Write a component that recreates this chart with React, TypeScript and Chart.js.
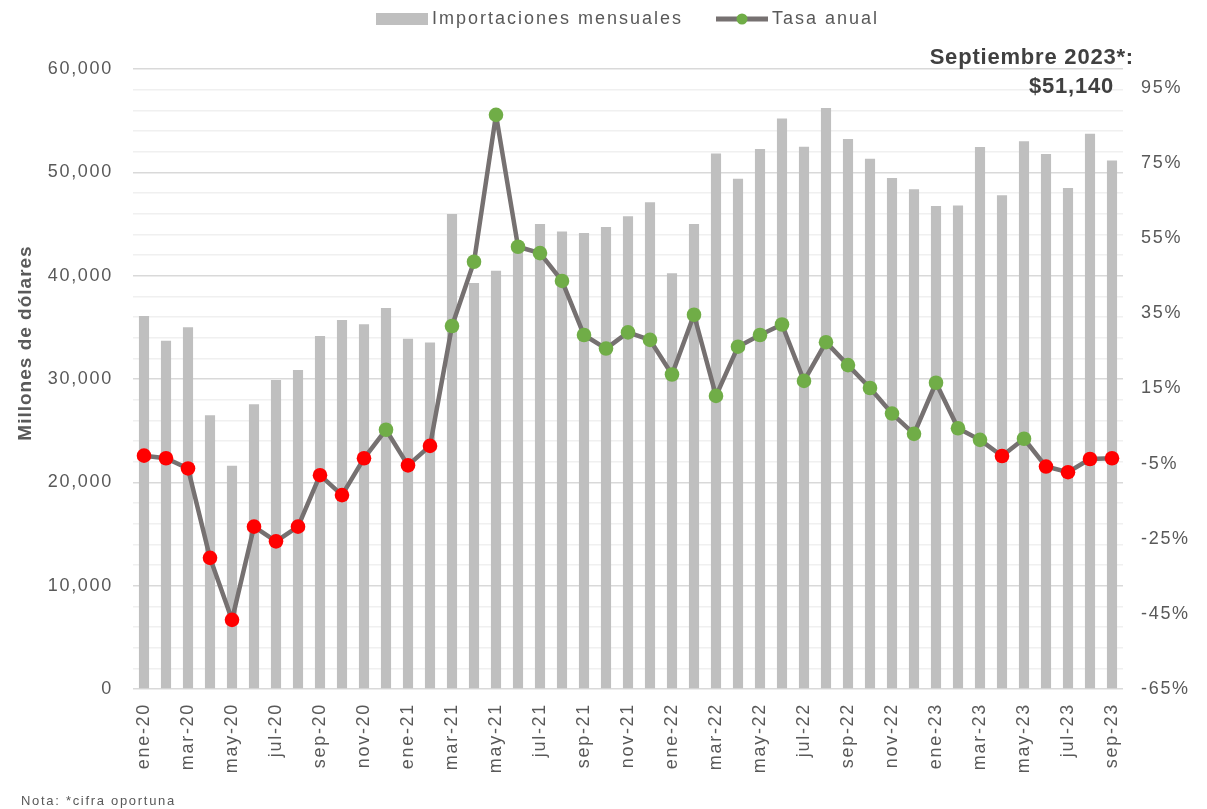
import React, { useEffect, useRef } from 'react';
import { Chart, registerables } from 'chart.js';

Chart.register(...registerables);

const months: string[] = [
  'ene-20', 'feb-20', 'mar-20', 'abr-20', 'may-20', 'jun-20', 'jul-20', 'ago-20', 'sep-20', 'oct-20', 'nov-20', 'dic-20',
  'ene-21', 'feb-21', 'mar-21', 'abr-21', 'may-21', 'jun-21', 'jul-21', 'ago-21', 'sep-21', 'oct-21', 'nov-21', 'dic-21',
  'ene-22', 'feb-22', 'mar-22', 'abr-22', 'may-22', 'jun-22', 'jul-22', 'ago-22', 'sep-22', 'oct-22', 'nov-22', 'dic-22',
  'ene-23', 'feb-23', 'mar-23', 'abr-23', 'may-23', 'jun-23', 'jul-23', 'ago-23', 'sep-23',
];

const imports: number[] = [
  36100, 33700, 35000, 26500, 21600, 27550, 29900, 30870, 34150, 35700, 35300, 36870,
  33900, 33530, 45970, 39290, 40480, 42800, 45000, 44270, 44130, 44710, 45750, 47100,
  40230, 45000, 51820, 49380, 52260, 55210, 52480, 56230, 53230, 51320, 49450, 48360,
  46740, 46790, 52450, 47780, 53000, 51770, 48480, 53740, 51140,
];

const annualRate: number[] = [
  -2.9, -3.6, -6.3, -30.1, -46.6, -21.8, -25.7, -21.8, -8.1, -13.4, -3.6, 4.0,
  -5.5, -0.3, 31.6, 48.7, 87.8, 52.7, 51.0, 43.6, 29.2, 25.6, 29.9, 27.9,
  18.7, 34.6, 13.0, 26.1, 29.2, 32.0, 17.0, 27.3, 21.2, 15.1, 8.3, 2.9,
  16.5, 4.4, 1.3, -3.0, 1.6, -5.8, -7.3, -3.8, -3.6,
];

const leftGridStep = 2000;
const leftLabelStep = 10000;
const rightTicks: number[] = [-65, -45, -25, -5, 15, 35, 55, 75, 95];
const seriesNames: string[] = ['Importaciones mensuales', 'Tasa anual'];
const yTitle = 'Millones de dólares';
const noteText = 'Nota: *cifra oportuna';
const calloutLabel = 'Septiembre 2023*:';

const FONT = '"Liberation Sans", Arial, sans-serif';
const TEXT = '#595959';
const BAR = '#bfbfbf';
const LINE = '#767171';
const GREEN = '#70ad47';
const RED = '#ff0000';
const SPACING = '1.7px';

const W = 1207;
const H = 809;
const AREA_LEFT = 133;
const AREA_RIGHT = 1123;
const AREA_TOP = 69;
const AREA_BOTTOM = 689;

const extras = {
  id: 'extras',
  beforeUpdate(chart: any) {
    chart.ctx.letterSpacing = SPACING;
  },
  beforeLayout(chart: any) {
    chart.ctx.letterSpacing = SPACING;
  },
  beforeDraw(chart: any) {
    chart.ctx.letterSpacing = SPACING;
  },
  afterDraw(chart: any) {
    const ctx = chart.ctx as CanvasRenderingContext2D;
    ctx.save();
    // legend
    ctx.fillStyle = BAR;
    ctx.fillRect(376, 13, 52, 12);
    ctx.font = `18px ${FONT}`;
    (ctx as any).letterSpacing = '2px';
    ctx.textBaseline = 'middle';
    ctx.textAlign = 'left';
    ctx.fillStyle = TEXT;
    ctx.fillText(seriesNames[0], 432, 19);
    ctx.strokeStyle = LINE;
    ctx.lineWidth = 5;
    ctx.beginPath();
    ctx.moveTo(716, 19);
    ctx.lineTo(768, 19);
    ctx.stroke();
    ctx.fillStyle = GREEN;
    ctx.beginPath();
    ctx.arc(742, 19, 5.5, 0, Math.PI * 2);
    ctx.fill();
    ctx.fillStyle = TEXT;
    ctx.fillText(seriesNames[1], 772, 19);

    // y axis title
    (ctx as any).letterSpacing = '1px';
    ctx.save();
    ctx.translate(26, 343);
    ctx.rotate(-Math.PI / 2);
    ctx.textAlign = 'center';
    ctx.font = `bold 19px ${FONT}`;
    ctx.fillStyle = TEXT;
    ctx.fillText(yTitle, 0, 0);
    ctx.restore();

    // callout
    const last = imports[imports.length - 1];
    ctx.font = `bold 22px ${FONT}`;
    (ctx as any).letterSpacing = '0.8px';
    ctx.textAlign = 'right';
    ctx.fillStyle = '#404040';
    ctx.fillText(calloutLabel, 1134, 58);
    ctx.fillText('$' + last.toLocaleString('en-US'), 1114, 87);

    // footnote
    ctx.font = `13px ${FONT}`;
    (ctx as any).letterSpacing = '1.7px';
    ctx.textAlign = 'left';
    ctx.fillStyle = TEXT;
    ctx.fillText(noteText, 21, 801);
    ctx.restore();
    (ctx as any).letterSpacing = SPACING;
  },
};

export default function App() {
  const ref = useRef<HTMLCanvasElement | null>(null);

  useEffect(() => {
    if (!ref.current) return;
    const chart = new Chart(ref.current, {
      type: 'bar',
      data: {
        labels: months,
        datasets: [
          {
            type: 'line',
            label: seriesNames[1],
            data: annualRate,
            yAxisID: 'y1',
            borderColor: LINE,
            borderWidth: 4.5,
            borderJoinStyle: 'round',
            borderCapStyle: 'round',
            pointRadius: 7.3,
            pointHoverRadius: 7.3,
            pointBorderWidth: 0,
            pointBackgroundColor: annualRate.map((v) => (v < 0 ? RED : GREEN)),
            tension: 0,
            order: 0,
          } as any,
          {
            type: 'bar',
            label: seriesNames[0],
            data: imports,
            yAxisID: 'y',
            backgroundColor: BAR,
            barPercentage: 0.46,
            categoryPercentage: 1,
            order: 1,
          },
        ],
      },
      options: {
        responsive: false,
        animation: false,
        layout: { padding: { top: AREA_TOP, left: 0, right: 0, bottom: 0 } },
        plugins: {
          legend: { display: false },
          tooltip: { enabled: false },
          title: { display: false },
        },
        scales: {
          x: {
            offset: true,
            grid: { display: false },
            border: { display: false },
            ticks: {
              autoSkip: false,
              maxRotation: 90,
              minRotation: 90,
              padding: 6,
              color: TEXT,
              font: { size: 18, family: FONT },
              callback: (_v: any, i: number) => (i % 2 === 0 ? months[i] : ''),
            },
            afterFit: (s: any) => {
              s.height = H - AREA_BOTTOM;
            },
          },
          y: {
            position: 'left',
            min: 0,
            max: 60000,
            border: { display: false },
            grid: {
              drawTicks: false,
              color: (c: any) => (c.tick && c.tick.value % leftLabelStep === 0 ? '#d9d9d9' : '#f0f0f0'),
              lineWidth: 1.5,
            },
            afterBuildTicks: (s: any) => {
              const t: any[] = [];
              for (let v = 0; v <= 60000; v += leftGridStep) t.push({ value: v });
              s.ticks = t;
            },
            ticks: {
              autoSkip: false,
              padding: 20,
              color: TEXT,
              font: { size: 18, family: FONT },
              callback: (v: any) => (Number(v) % leftLabelStep === 0 ? Number(v).toLocaleString('en-US') : ''),
            },
            afterFit: (s: any) => {
              s.width = AREA_LEFT;
            },
          },
          y1: {
            position: 'right',
            min: -65,
            max: 100,
            border: { display: false },
            grid: { display: false, drawTicks: false },
            afterBuildTicks: (s: any) => {
              s.ticks = rightTicks.map((v) => ({ value: v }));
            },
            ticks: {
              autoSkip: false,
              padding: 18,
              color: TEXT,
              font: { size: 18, family: FONT },
              callback: (v: any) => `${v}%`,
            },
            afterFit: (s: any) => {
              s.width = W - AREA_RIGHT;
            },
          },
        },
      },
      plugins: [extras],
    });
    return () => chart.destroy();
  }, []);

  return (
    <div style={{ position: 'fixed', left: 0, top: 0, width: W, height: H, background: '#fff' }}>
      <canvas ref={ref} width={W} height={H} style={{ width: W, height: H, display: 'block' }} />
    </div>
  );
}
